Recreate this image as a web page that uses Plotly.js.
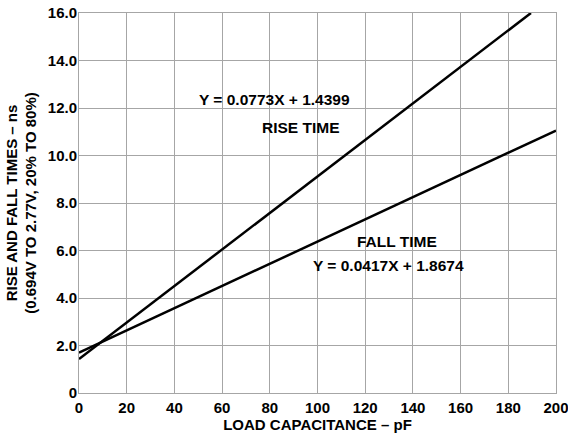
<!DOCTYPE html>
<html>
<head>
<meta charset="utf-8">
<script src="https://cdn.plot.ly/plotly-3.0.1.min.js"></script>
<style>html,body{margin:0;padding:0;background:#fff;}#chart{width:568px;height:434px;}</style>
</head>
<body>
<div id="chart"></div>
<script>
// Values
const riseX = [0, 189.5];
const riseY = [1.43, 16.0];
const fallX = [0, 200];
const fallY = [1.70, 11.05];

const xTickVals = [0, 20, 40, 60, 80, 100, 120, 140, 160, 180, 200];
const xTickText = ["0", "20", "40", "60", "80", "100", "120", "140", "160", "180", "200"];
const yTickVals = [0, 2, 4, 6, 8, 10, 12, 14, 16];
const yTickText = ["0", "2.0", "4.0", "6.0", "8.0", "10.0", "12.0", "14.0", "16.0"];

const labelTexts = ["Y = 0.0773X + 1.4399", "RISE TIME", "FALL TIME", "Y = 0.0417X + 1.8674"];
const labelX = [81.8, 93.1, 133.3, 129.6];
const labelY = [12.34, 11.2, 6.37, 5.36];

const FONT = "Liberation Sans, Arial, Helvetica, sans-serif";
const lineStyle = {color: "#000", width: 2.5};

const data = [
  {x: riseX, y: riseY, mode: "lines", line: lineStyle, name: "Rise time", hoverinfo: "x+y"},
  {x: fallX, y: fallY, mode: "lines", line: lineStyle, name: "Fall time", hoverinfo: "x+y"}
];

const annotations = labelTexts.map((t, i) => ({
  x: labelX[i], y: labelY[i], xref: "x", yref: "y", text: t, showarrow: false,
  font: {family: FONT, size: 15.5, color: "#000", weight: "bold"}
}));

const axisCommon = {
  showgrid: true, gridcolor: "#a6a6a6", gridwidth: 1,
  showline: true, linecolor: "#a6a6a6", linewidth: 1, mirror: true,
  zeroline: false, ticks: "", tickmode: "array",
  ticklabeloverflow: "allow",
  tickfont: {family: FONT, size: 15, color: "#000", weight: "bold"},
  fixedrange: true
};

const layout = {
  width: 568, height: 434,
  margin: {l: 79, r: 12, t: 13, b: 41},
  paper_bgcolor: "#fff", plot_bgcolor: "#fff",
  showlegend: false,
  font: {family: FONT, color: "#000"},
  xaxis: Object.assign({}, axisCommon, {
    range: [0, 200], tickvals: xTickVals, ticktext: xTickText,
    ticklabelstandoff: 1,
    title: {text: "LOAD CAPACITANCE – pF", font: {family: FONT, size: 15, color: "#000", weight: "bold"}, standoff: 0}
  }),
  yaxis: Object.assign({}, axisCommon, {
    range: [0, 16], tickvals: yTickVals, ticktext: yTickText,
    ticklabelstandoff: -2,
    title: {text: "RISE AND FALL TIMES – ns<br>(0.694V TO 2.77V, 20% TO 80%)", font: {family: FONT, size: 15, color: "#000", weight: "bold"}, standoff: 7}
  }),
  annotations: annotations
};

Plotly.newPlot("chart", data, layout, {displayModeBar: false, staticPlot: true});
</script>
</body>
</html>
